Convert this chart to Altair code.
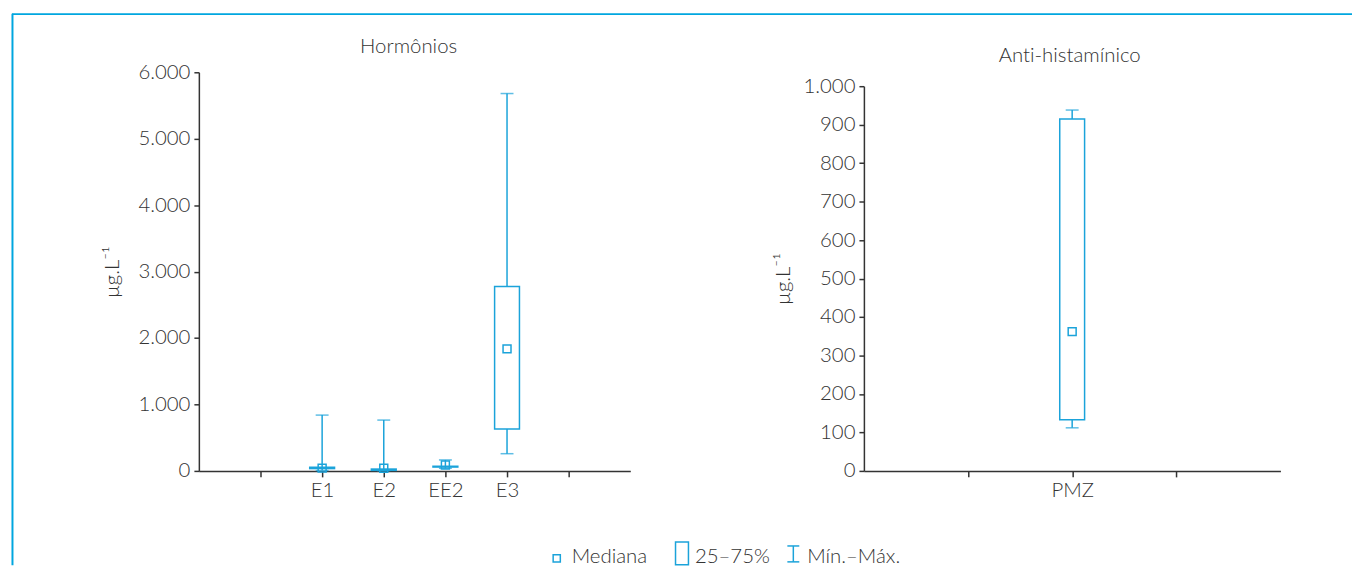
import altair as alt
import pandas as pd

# ---------------- data ----------------
left_title = "Hormônios"
left_cats = ["E1", "E2", "EE2", "E3"]
left_min = [5, 3, 40, 259]
left_q1 = [35, 8, 58, 629]
left_med = [42, 40, 90, 1837]
left_q3 = [55, 28, 70, 2774]
left_max = [840, 765, 165, 5680]
left_xlabels = ["", "", "E1", "E2", "EE2", "E3", "", ""]
left_yticks = [0, 1000, 2000, 3000, 4000, 5000, 6000]

right_title = "Ant\u200ci-histamínico"  # ZWNJ keeps Lato from forming the "ti" ligature
right_cats = ["PMZ"]
right_min = [112]
right_q1 = [133]
right_med = [362]
right_q3 = [915]
right_max = [938]
right_xlabels = ["", "", "PMZ", "", ""]
right_yticks = [0, 100, 200, 300, 400, 500, 600, 700, 800, 900, 1000]

y_title = "µg.L⁻¹"
legend_labels = ["Mediana", "25–75%", "Mín.–Máx."]

# ---------------- style ----------------
CYAN = "#1ba3da"
FRAME = "#00a6df"
TXT = "#333333"
FONT = "Lato"
FW = 300
FS = 20.5
SW = 1.5

W, H = 1352, 559
AXIS_Y = 464

one = alt.Data(values=[{}])


def panel(cats, mn, q1, med, q3, mx, xlabels, yticks, xdom, xrange, ydom, yrange, y_off, first_pos, title_x):
    df = pd.DataFrame({
        "cat": cats,
        "pos": [first_pos + i for i in range(len(cats))],
        "min": mn, "q1": q1, "med": med, "q3": q3, "max": mx,
    })
    arr = "[" + ",".join("'" + s + "'" for s in xlabels) + "]"
    xs = alt.Scale(domain=xdom, range=xrange, nice=False, zero=False, padding=0)
    ys = alt.Scale(domain=ydom, range=yrange, nice=False, zero=True, padding=0)
    xax = alt.Axis(orient="bottom", offset=AXIS_Y - H, values=list(range(1, xdom[1])),
                   labelExpr=arr + "[datum.value]", title=None, grid=False,
                   tickSize=6, tickWidth=SW, tickColor=TXT, domainColor=TXT, domainWidth=SW,
                   labelFont=FONT, labelFontSize=FS, labelFontWeight=FW, labelColor=TXT, labelPadding=4)
    yax = alt.Axis(orient="left", offset=-y_off, values=yticks,
                   labelExpr="replace(format(datum.value, ','), ',', '.')",
                   title=y_title, grid=False, tickSize=5, tickWidth=SW, tickColor=TXT,
                   domainColor=TXT, domainWidth=SW, labelFont=FONT, labelFontSize=FS,
                   labelFontWeight=FW, labelColor=TXT, labelPadding=4, titleFont=FONT,
                   titleFontSize=FS, titleFontWeight=FW, titleColor=TXT, titleX=title_x)
    X = alt.X("pos:Q", scale=xs, axis=xax)

    def Y(f):
        return alt.Y(f + ":Q", scale=ys, axis=yax)

    base = alt.Chart(df)
    whisk = base.mark_rule(color=CYAN, strokeWidth=SW).encode(x=X, y=Y("min"), y2="max:Q")
    cap_hi = base.mark_tick(color=CYAN, orient="horizontal", size=13, thickness=SW).encode(x=X, y=Y("max"))
    cap_lo = base.mark_tick(color=CYAN, orient="horizontal", size=13, thickness=SW).encode(x=X, y=Y("min"))
    box = base.mark_bar(size=25, fill="white", stroke=CYAN, strokeWidth=SW).encode(x=X, y=Y("q1"), y2="q3:Q")
    medm = base.mark_point(shape="square", size=64, filled=False, color=CYAN, strokeWidth=SW, opacity=1).encode(x=X, y=Y("med"))
    return alt.layer(whisk, cap_hi, cap_lo, box, medm)


left = panel(left_cats, left_min, left_q1, left_med, left_q3, left_max, left_xlabels, left_yticks,
             [0, 7], [192, 626], [0, 6000], [AXIS_Y, 63], 192, 2, -77)
right = panel(right_cats, right_min, right_q1, right_med, right_q3, right_max, right_xlabels, right_yticks,
              [0, 4], [861, 1280], [0, 1000], [AXIS_Y, 77], 861, 2, -71)


def txt(s, x, y, align="center", baseline="middle"):
    return alt.Chart(one).mark_text(font=FONT, fontSize=FS, fontWeight=FW, color=TXT, align=align,
                                    baseline=baseline).encode(
        x=alt.value(x), y=alt.value(y), text=alt.value(s))


titles = alt.layer(txt(left_title, 403, 38), txt(right_title, 1068, 47))

frame = alt.layer(
    alt.Chart(one).mark_rule(color=FRAME, strokeWidth=2).encode(x=alt.value(4), x2=alt.value(W), y=alt.value(4.5)),
    alt.Chart(one).mark_rule(color=FRAME, strokeWidth=2).encode(x=alt.value(4.5), y=alt.value(4), y2=alt.value(H)),
)

LB = 557  # text baseline in legend
legend = alt.layer(
    alt.Chart(one).mark_point(shape="square", size=52, filled=False, color=CYAN, strokeWidth=SW, opacity=1).encode(
        x=alt.value(552), y=alt.value(552)),
    txt(legend_labels[0], 567, LB, "left", "alphabetic"),
    alt.Chart(one).mark_rect(fill="white", stroke=CYAN, strokeWidth=SW).encode(
        x=alt.value(671.5), x2=alt.value(684.5), y=alt.value(535.5), y2=alt.value(558.5)),
    txt(legend_labels[1], 691, LB, "left", "alphabetic"),
    alt.Chart(one).mark_rule(color=CYAN, strokeWidth=SW).encode(
        x=alt.value(790), y=alt.value(539.5), y2=alt.value(555.5)),
    alt.Chart(one).mark_rule(color=CYAN, strokeWidth=SW).encode(
        x=alt.value(784), x2=alt.value(796), y=alt.value(539.5)),
    alt.Chart(one).mark_rule(color=CYAN, strokeWidth=SW).encode(
        x=alt.value(784), x2=alt.value(796), y=alt.value(555.5)),
    txt(legend_labels[2], 804, LB, "left", "alphabetic"),
)

chart = alt.layer(left, right, titles, legend, frame).resolve_scale(
    x="independent", y="independent"
).resolve_axis(x="independent", y="independent").properties(
    width=W, height=H,
    autosize=alt.AutoSizeParams(type="none"),
    padding={"left": 0, "top": 0, "right": 0, "bottom": 0},
    background="white",
).configure_view(stroke=None)

chart.save("out.html", embed_options={"renderer": "svg", "actions": False})
